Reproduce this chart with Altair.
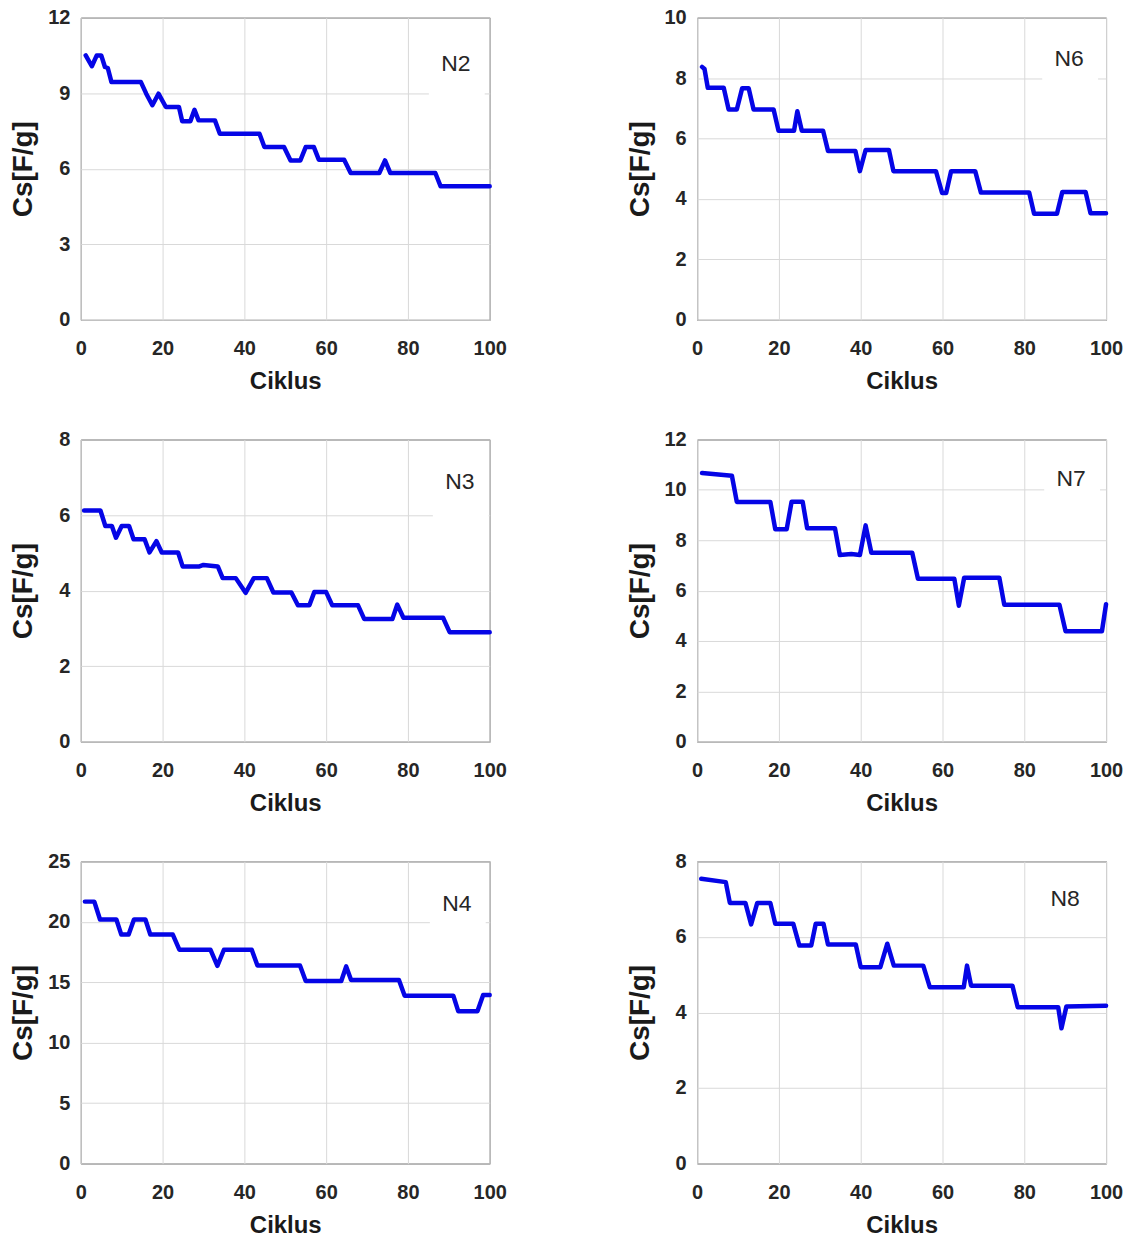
import altair as alt
import pandas as pd

# ---------- data (cycle, Cs[F/g]) ----------
n2_cycles = [1.2, 2.7, 3.9, 5.0, 5.9, 6.6, 7.5, 14.7, 16.0, 17.5, 19.0, 20.8, 24.0, 24.8, 26.8, 27.8, 28.8, 32.8,
             34.0, 43.7, 44.9, 49.7, 51.3, 53.7, 55.0, 57.0, 58.2, 64.4, 66.0, 73.0, 74.4, 75.7, 86.7, 88.0, 100]
n2_values = [10.5, 10.07, 10.5, 10.5, 10.04, 10.0, 9.44, 9.44, 8.98, 8.52, 8.98, 8.45, 8.45, 7.89, 7.89, 8.34, 7.92,
             7.92, 7.39, 7.39, 6.86, 6.86, 6.33, 6.33, 6.86, 6.86, 6.36, 6.36, 5.83, 5.83, 6.33, 5.83, 5.83, 5.30, 5.30]

n6_cycles = [1.2, 1.8, 2.6, 6.5, 7.7, 9.7, 11.0, 12.6, 13.8, 18.7, 19.9, 23.7, 24.5, 25.6, 30.8, 32.0, 38.7, 39.8,
             41.2, 46.9, 48.0, 58.4, 59.9, 60.9, 62.1, 68.0, 69.4, 81.2, 82.4, 88.0, 89.3, 95.0, 96.2, 100]
n6_values = [8.37, 8.3, 7.68, 7.68, 6.96, 6.96, 7.66, 7.66, 6.96, 6.96, 6.26, 6.26, 6.90, 6.26, 6.26, 5.59, 5.59,
             4.92, 5.62, 5.62, 4.92, 4.92, 4.20, 4.20, 4.92, 4.92, 4.21, 4.21, 3.51, 3.51, 4.23, 4.23, 3.53, 3.53]

n3_cycles = [0.8, 4.8, 6.0, 7.6, 8.6, 10.0, 11.8, 12.9, 15.6, 16.8, 18.5, 19.8, 23.8, 24.9, 29.0, 30.0, 33.5, 34.7,
             37.9, 40.3, 42.3, 45.5, 47.1, 51.5, 53.1, 55.9, 57.1, 60.0, 61.5, 67.8, 69.3, 76.2, 77.4, 78.9, 88.6,
             90.2, 100]
n3_values = [6.12, 6.12, 5.71, 5.71, 5.40, 5.71, 5.71, 5.36, 5.36, 5.01, 5.31, 5.01, 5.01, 4.64, 4.64, 4.68, 4.64,
             4.33, 4.33, 3.94, 4.33, 4.33, 3.95, 3.95, 3.61, 3.61, 3.96, 3.96, 3.61, 3.61, 3.25, 3.25, 3.63, 3.28,
             3.28, 2.90, 2.90]

n7_cycles = [1.2, 8.5, 9.7, 17.9, 19.1, 21.9, 23.1, 25.8, 26.9, 33.7, 34.9, 37.7, 39.8, 41.2, 42.6, 52.6, 54.0,
             62.9, 64.0, 65.3, 73.9, 75.1, 88.6, 90.1, 99.0, 100]
n7_values = [10.67, 10.56, 9.52, 9.52, 8.44, 8.44, 9.53, 9.53, 8.48, 8.48, 7.41, 7.45, 7.41, 8.59, 7.50, 7.50, 6.47,
             6.47, 5.40, 6.51, 6.51, 5.44, 5.44, 4.39, 4.39, 5.46]

n4_cycles = [1.0, 3.3, 4.7, 8.7, 9.9, 11.7, 13.0, 15.8, 17.0, 22.5, 24.1, 31.7, 33.4, 35.0, 41.8, 43.2, 53.6, 55.0,
             63.7, 64.9, 66.1, 77.8, 79.2, 91.1, 92.3, 97.0, 98.4, 100]
n4_values = [21.67, 21.67, 20.19, 20.19, 18.94, 18.94, 20.19, 20.19, 18.94, 18.94, 17.69, 17.69, 16.36, 17.69, 17.69,
             16.39, 16.39, 15.11, 15.11, 16.31, 15.19, 15.19, 13.89, 13.89, 12.61, 12.61, 13.94, 13.94]

n8_cycles = [1.0, 7.0, 8.0, 11.8, 13.2, 14.7, 17.9, 19.1, 23.5, 25.0, 27.9, 29.0, 30.9, 32.0, 38.8, 40.0, 44.8,
             46.5, 48.1, 55.3, 56.9, 65.2, 66.0, 67.0, 77.1, 78.4, 88.3, 89.1, 90.3, 100]
n8_values = [7.54, 7.45, 6.90, 6.90, 6.33, 6.90, 6.90, 6.35, 6.35, 5.77, 5.77, 6.35, 6.35, 5.80, 5.80, 5.20, 5.20,
             5.82, 5.24, 5.24, 4.67, 4.67, 5.24, 4.71, 4.71, 4.14, 4.14, 3.58, 4.16, 4.18]

x_ticks = [0, 20, 40, 60, 80, 100]

FONT = "Liberation Sans"
LINE_COLOR = "#0505E6"
W, H = 410, 303


def panel(name, cycles, values, ymax, ystep, lab_x, lab_y, box_y2):
    df = pd.DataFrame({"Ciklus": cycles, "Cs": values})
    x = alt.X("Ciklus:Q", scale=alt.Scale(domain=[0, 100], nice=False),
              axis=alt.Axis(values=x_ticks, title="Ciklus"))
    y = alt.Y("Cs:Q", scale=alt.Scale(domain=[0, ymax], nice=False),
              axis=alt.Axis(values=list(range(0, ymax + 1, ystep)), title="Cs[F/g]"))
    line = alt.Chart(df).mark_line(color=LINE_COLOR, strokeWidth=4.5, strokeJoin="round",
                                   strokeCap="round").encode(x=x, y=y)
    lab = pd.DataFrame({"label": [name]})
    box = alt.Chart(lab).mark_rect(color="white").encode(
        x=alt.value(lab_x - 27), x2=alt.value(lab_x + 29), y=alt.value(12), y2=alt.value(box_y2))
    text = alt.Chart(lab).mark_text(font=FONT, fontSize=23, color="#262626").encode(
        x=alt.value(lab_x), y=alt.value(lab_y), text="label:N")
    return alt.layer(box, line, text).properties(width=W, height=H)


p_n2 = panel("N2", n2_cycles, n2_values, 12, 3, 376, 47, 80)
p_n6 = panel("N6", n6_cycles, n6_values, 10, 2, 373, 41, 66)
p_n3 = panel("N3", n3_cycles, n3_values, 8, 2, 380, 43, 80)
p_n7 = panel("N7", n7_cycles, n7_values, 12, 2, 375, 40, 56)
p_n4 = panel("N4", n4_cycles, n4_values, 25, 5, 377, 43, 66)
p_n8 = panel("N8", n8_cycles, n8_values, 8, 2, 369, 38, 66)

chart = alt.concat(
    p_n2, p_n6, p_n3, p_n7, p_n4, p_n8,
    columns=2, spacing={"row": 120, "column": 208}, bounds="flush",
).properties(
    padding={"left": 1, "top": -3, "right": 0, "bottom": 4},
    background="white",
).configure_axis(
    labelFont=FONT, labelFontSize=20, labelFontWeight="bold", labelColor="#262626",
    titleFont=FONT, titleFontWeight="bold", titleColor="#1a1a1a",
    gridColor="#d9d9d9", gridWidth=1, domain=False, ticks=False, tickSize=0,
    labelFlush=False,
).configure_axisX(
    labelPadding=19, titlePadding=11, titleFontSize=24, minExtent=39, maxExtent=39,
).configure_axisY(
    labelPadding=11, titlePadding=7, titleFontSize=28, minExtent=36, maxExtent=36,
).configure_view(
    stroke="#333333", strokeWidth=1,
)

chart.save("out.html", embed_options={"renderer": "svg", "actions": False})
